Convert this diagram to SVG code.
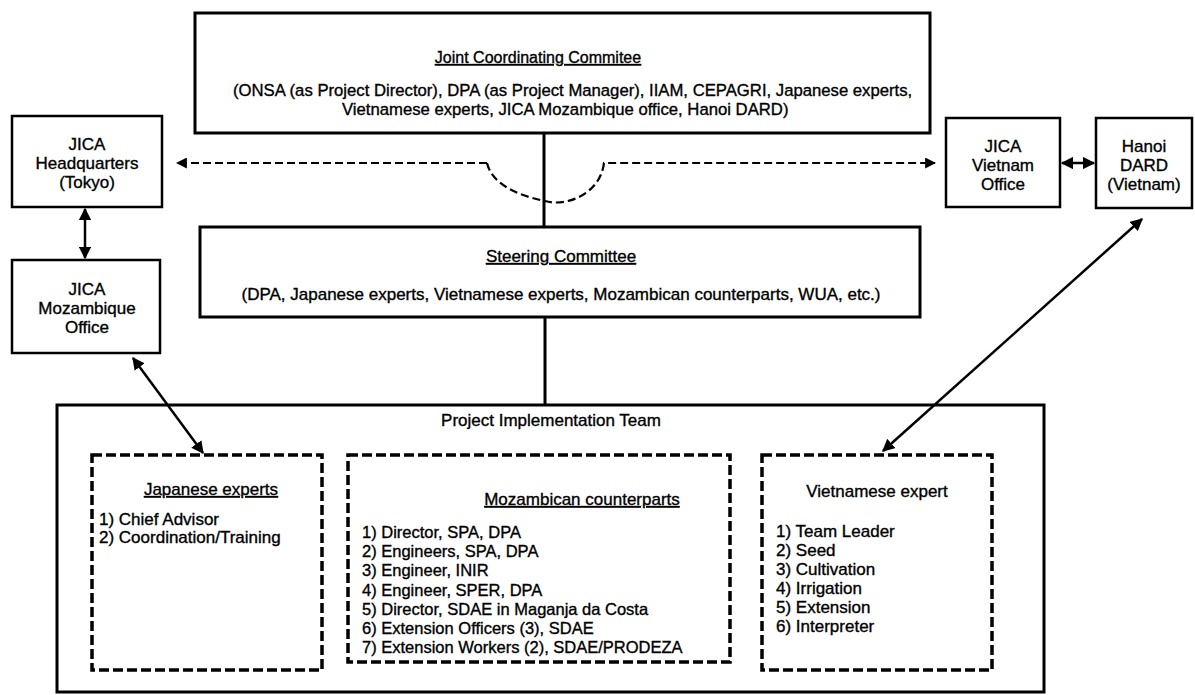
<svg xmlns="http://www.w3.org/2000/svg" width="1195" height="695" viewBox="0 0 1195 695">
<defs>
<style>
text{font-family:"Liberation Sans",Arial,sans-serif;font-size:17px;fill:#000;stroke:#000;stroke-width:0.35}
.c{text-anchor:middle}
.u{text-decoration:underline}
.m{font-size:16.5px}
.box{fill:#fff;stroke:#000;stroke-width:3}
.sbox{fill:#fff;stroke:#000;stroke-width:2.5}
.dbox{fill:none;stroke:#000;stroke-width:3.5;stroke-dasharray:10 4}
.line{fill:none;stroke:#000;stroke-width:3}
.arr{fill:none;stroke:#000;stroke-width:2.5;marker-start:url(#ah);marker-end:url(#ah)}
.darr{fill:none;stroke:#000;stroke-width:2.2;stroke-dasharray:8 4}
</style>
<marker id="ah" viewBox="0 0 10 10" refX="9" refY="5" markerWidth="5" markerHeight="5" markerUnits="strokeWidth" orient="auto-start-reverse">
<path d="M0,0 L10,5 L0,10 Z" fill="#000"/>
</marker>
</defs>
<rect width="1195" height="695" fill="#fff"/>

<g id="connectors">
<line class="line" x1="544" y1="133" x2="544" y2="227"/>
<line class="line" x1="545" y1="317" x2="545" y2="405"/>
<path class="darr" d="M487,163 L177,163" style="marker-end:url(#ah)"/>
<path class="darr" d="M487,163 C492,185 520,196 545,201 C565,207 600,195 604,163 L935,163" style="marker-end:url(#ah)"/>
<line class="arr" x1="85" y1="209" x2="85" y2="258"/>
<line class="arr" x1="1062" y1="163" x2="1094" y2="163"/>
<line class="arr" x1="133" y1="358" x2="203" y2="453"/>
<line class="arr" x1="1142" y1="219" x2="883" y2="451"/>
</g>

<g id="jcc">
<rect class="box" x="195" y="13" width="735" height="120"/>
<text class="c u" x="538" y="63" style="font-size:16px">Joint Coordinating Commitee</text>
<text x="233" y="96" style="font-size:16.7px">(ONSA (as Project Director), DPA (as Project Manager), IIAM,  CEPAGRI,  Japanese experts,</text>
<text x="342" y="115" style="font-size:16.7px">Vietnamese experts, JICA Mozambique office, Hanoi DARD)</text>
</g>

<g id="jica-hq">
<rect class="sbox" x="12" y="116" width="150" height="91"/>
<text class="c" x="87" y="150">JICA</text>
<text class="c" x="87" y="169">Headquarters</text>
<text class="c" x="87" y="188">(Tokyo)</text>
</g>

<g id="jica-moz">
<rect class="sbox" x="12" y="260" width="148" height="93"/>
<text class="c" x="87" y="295">JICA</text>
<text class="c" x="87" y="314">Mozambique</text>
<text class="c" x="87" y="333">Office</text>
</g>

<g id="jica-vn">
<rect class="sbox" x="946" y="118" width="114" height="89"/>
<text class="c" x="1003" y="152">JICA</text>
<text class="c" x="1003" y="171">Vietnam</text>
<text class="c" x="1003" y="190">Office</text>
</g>

<g id="hanoi-dard">
<rect class="sbox" x="1096" y="118" width="96" height="90"/>
<text class="c" x="1144" y="152">Hanoi</text>
<text class="c" x="1144" y="171">DARD</text>
<text class="c" x="1144" y="190">(Vietnam)</text>
</g>

<g id="steering">
<rect class="box" x="200" y="227" width="720" height="90"/>
<text class="c u" x="561" y="262">Steering Committee</text>
<text class="c" x="561" y="300">(DPA, Japanese experts, Vietnamese experts, Mozambican counterparts, WUA, etc.)</text>
</g>

<g id="pit">
<rect class="box" x="57" y="405" width="987" height="287" style="fill:none"/>
<text class="c" x="551" y="426">Project Implementation Team</text>
</g>

<g id="japanese-experts">
<rect class="dbox" x="92" y="455" width="230" height="215"/>
<text class="c u" x="211" y="495">Japanese experts</text>
<text x="99" y="525">1) Chief Advisor</text>
<text x="99" y="543">2) Coordination/Training</text>
</g>

<g id="mozambican-counterparts">
<rect class="dbox" x="348" y="455" width="382" height="207"/>
<text class="c u" x="582" y="505">Mozambican counterparts</text>
<text class="m" x="362" y="538">1) Director, SPA, DPA</text>
<text class="m" x="362" y="557">2) Engineers, SPA, DPA</text>
<text class="m" x="362" y="576">3) Engineer, INIR</text>
<text class="m" x="362" y="596">4) Engineer, SPER, DPA</text>
<text class="m" x="362" y="615">5) Director, SDAE in Maganja da Costa</text>
<text class="m" x="362" y="634">6) Extension Officers (3), SDAE</text>
<text class="m" x="362" y="653">7) Extension Workers (2), SDAE/PRODEZA</text>
</g>

<g id="vietnamese-expert">
<rect class="dbox" x="762" y="455" width="230" height="215"/>
<text class="c" x="877" y="497">Vietnamese expert</text>
<text x="776" y="537">1) Team Leader</text>
<text x="776" y="556">2) Seed</text>
<text x="776" y="575">3) Cultivation</text>
<text x="776" y="594">4) Irrigation</text>
<text x="776" y="613">5) Extension</text>
<text x="776" y="632">6) Interpreter</text>
</g>
</svg>
